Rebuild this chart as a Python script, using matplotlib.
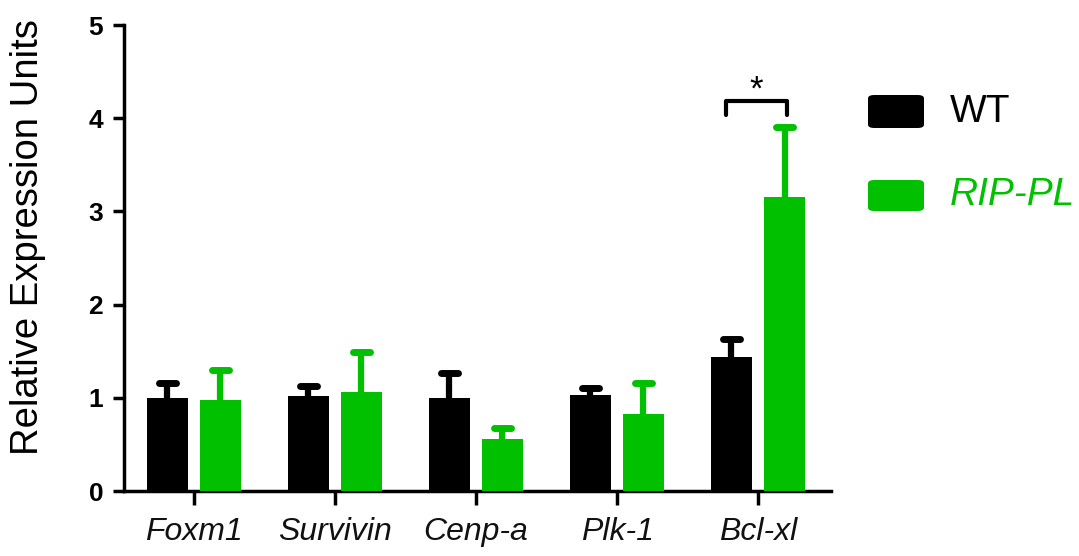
import numpy as np
import matplotlib
matplotlib.use("Agg")
import matplotlib.pyplot as plt
from matplotlib.patches import FancyBboxPatch

plt.rcParams['font.family'] = ['Liberation Sans', 'DejaVu Sans']

genes = ["Foxm1", "Survivin", "Cenp-a", "Plk-1", "Bcl-xl"]
series_names = ["WT", "RIP-PL"]
wt_mean = [1.00, 1.02, 1.00, 1.03, 1.44]
wt_err = [0.16, 0.11, 0.27, 0.08, 0.19]
rip_mean = [0.98, 1.06, 0.56, 0.83, 3.16]
rip_err = [0.32, 0.43, 0.12, 0.33, 0.75]
yticks = [0, 1, 2, 3, 4, 5]

black = "#000000"
green = "#00c000"

fig = plt.figure(figsize=(10.79, 5.56), dpi=100)
ax = fig.add_axes([0.1149, 0.1169, 0.6553, 0.8381])

x = np.arange(len(genes))
off = 0.188
w = 0.29
capw = 0.06

ax.bar(x - off, wt_mean, width=w, color=black, zorder=3)
ax.bar(x + off, rip_mean, width=w, color=green, zorder=3)
for xs, m, e, c in [(x - off, wt_mean, wt_err, black), (x + off, rip_mean, rip_err, green)]:
    top = np.array(m) + np.array(e)
    ax.vlines(xs, m, top, colors=c, lw=4.5, zorder=2)
    ax.hlines(top, xs - capw, xs + capw, colors=c, lw=5, zorder=2, capstyle='round')

# significance bracket
bx0, bx1 = 4 - off - 0.04, 4 + off + 0.02
ax.plot([bx0, bx0, bx1, bx1], [4.03, 4.18, 4.18, 4.03], color=black, lw=3,
        solid_capstyle='round', solid_joinstyle='round', clip_on=False)
ax.text((bx0 + bx1) / 2, 4.30, "*", ha='center', va='center', fontsize=25)

ax.set_xlim(-0.496, 4.518)
ax.set_ylim(0, 5)
ax.set_yticks(yticks)
ax.set_yticklabels([str(t) for t in yticks], fontsize=19, fontweight='bold')
ax.set_xticks(x)
ax.set_xticklabels(genes, fontsize=23, fontstyle='italic', color='#111111')
ax.set_ylabel("Relative Expression Units", fontsize=27.5)
ax.yaxis.set_label_coords(-0.110, 0.545)

for s in ['top', 'right']:
    ax.spines[s].set_visible(False)
for s in ['left', 'bottom']:
    ax.spines[s].set_linewidth(2.5)
ax.tick_params(axis='y', length=8, width=2.5, pad=7)
ax.tick_params(axis='x', length=10, width=2.5, pad=9)

# legend
W, H = 1079.0, 556.0
for (y0, y1), c, name, style in [((95, 128), black, series_names[0], 'normal'),
                                  ((180, 211), green, series_names[1], 'italic')]:
    box = FancyBboxPatch((868 / W, 1 - y1 / H), 56 / W, (y1 - y0) / H,
                         boxstyle="round,pad=0,rounding_size=0.006",
                         transform=fig.transFigure, facecolor=c, edgecolor='none')
    fig.patches.append(box)
    fig.text(950 / W, 1 - ((y0 + y1) / 2) / H, name, fontsize=28, fontstyle=style,
             color=c, ha='left', va='center')

fig.savefig("out.png", dpi=100)
